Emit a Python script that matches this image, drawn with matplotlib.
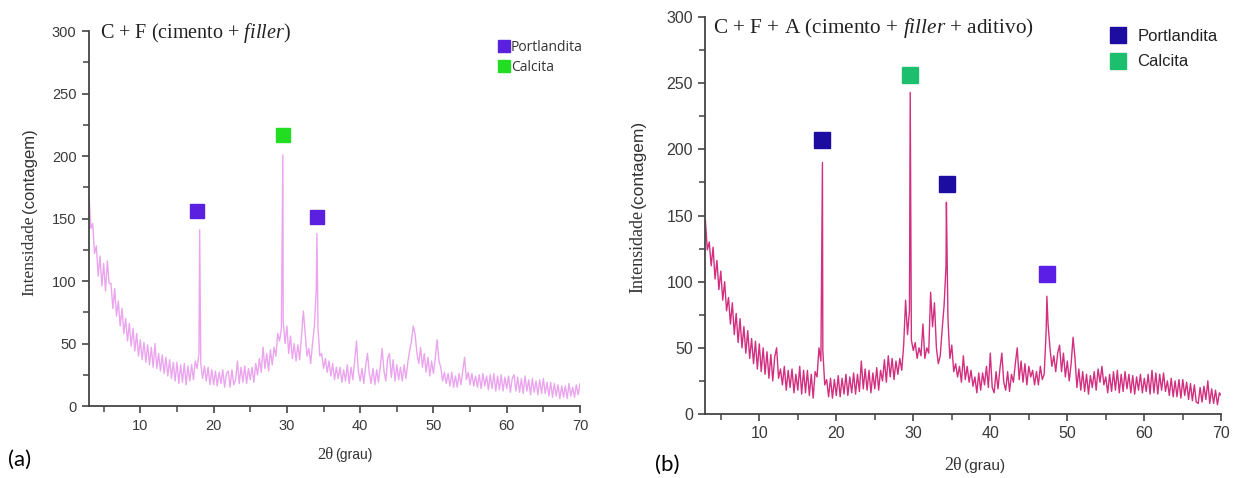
import numpy as np
import matplotlib
matplotlib.use("Agg")
import matplotlib.pyplot as plt
from matplotlib.lines import Line2D
from matplotlib.ticker import MultipleLocator

plt.rcParams['mathtext.fontset'] = 'custom'
plt.rcParams['mathtext.rm'] = 'Liberation Serif'
plt.rcParams['mathtext.it'] = 'Liberation Serif:italic'

# grade de varredura 2theta (graus), passo 0.25
two_theta = np.arange(3.0, 70.001, 0.25)

# (a) C + F -- intensidade, uma linha por grau (x.00, x.25, x.50, x.75)
intens_a = [
    168, 142, 146, 122,   # 3
    128, 104, 120, 96,    # 4
    114, 92, 116, 98,     # 5
    98, 78, 94, 72,       # 6
    84, 64, 78, 58,       # 7
    70, 52, 66, 48,       # 8
    62, 44, 58, 40,       # 9
    53, 37, 51, 35,       # 10
    49, 33, 47, 31,       # 11
    50, 30, 42, 28,       # 12
    41, 26, 39, 24,       # 13
    37, 22, 35, 20,       # 14
    35, 18, 33, 19,       # 15
    34, 17, 32, 20,       # 16
    33, 21, 36, 30,       # 17
    42, 34, 22, 32,       # 18
    20, 31, 17, 29,       # 19
    17, 28, 16, 27,       # 20
    18, 29, 15, 26,       # 21
    28, 15, 29, 17,       # 22
    21, 36, 18, 31,       # 23
    19, 32, 18, 30,       # 24
    21, 31, 19, 34,       # 25
    25, 38, 27, 47,       # 26
    30, 42, 28, 45,       # 27
    33, 47, 40, 58,       # 28
    52, 62, 68, 50,       # 29
    64, 42, 56, 38,       # 30
    50, 36, 49, 37,       # 31
    56, 76, 58, 40,       # 32
    46, 34, 50, 64,       # 33
    92, 62, 40, 42,       # 34
    30, 38, 27, 36,       # 35
    24, 34, 21, 31,       # 36
    22, 31, 19, 29,       # 37
    20, 33, 18, 31,       # 38
    21, 36, 52, 28,       # 39
    20, 30, 18, 32,       # 40
    42, 26, 18, 30,       # 41
    17, 29, 19, 32,       # 42
    46, 28, 20, 38,       # 43
    42, 23, 37, 20,       # 44
    33, 21, 31, 20,       # 45
    33, 22, 35, 44,       # 46
    52, 64, 57, 42,       # 47
    34, 47, 31, 42,       # 48
    27, 39, 24, 36,       # 49
    26, 38, 53, 36,       # 50
    31, 20, 27, 18,       # 51
    26, 16, 27, 15,       # 52
    24, 15, 26, 17,       # 53
    28, 39, 21, 27,       # 54
    17, 26, 16, 24,       # 55
    15, 25, 14, 26,       # 56
    16, 24, 13, 25,       # 57
    14, 26, 12, 24,       # 58
    13, 25, 12, 23,       # 59
    14, 24, 11, 22,       # 60
    25, 12, 23, 11,       # 61
    22, 10, 24, 12,       # 62
    21, 9, 22, 11,        # 63
    20, 9, 21, 10,        # 64
    22, 10, 19, 8,        # 65
    19, 7, 18, 8,         # 66
    17, 6, 16, 7,         # 67
    16, 6, 18, 8,         # 68
    15, 7, 17, 9,         # 69
    18,                   # 70
]
# picos estreitos de (a)
peak_a_x = [18.1, 29.45, 34.1]
peak_a_y = [141, 201, 138]

# (b) C + F + A
intens_b = [
    146, 124, 130, 112,   # 3
    126, 102, 116, 94,    # 4
    108, 86, 100, 78,     # 5
    88, 68, 84, 60,       # 6
    76, 54, 72, 50,       # 7
    66, 46, 63, 42,       # 8
    57, 38, 55, 34,       # 9
    53, 32, 50, 30,       # 10
    47, 27, 45, 25,       # 11
    43, 50, 27, 34,       # 12
    22, 36, 18, 33,       # 13
    20, 34, 16, 30,       # 14
    18, 36, 15, 33,       # 15
    16, 33, 14, 30,       # 16
    12, 32, 28, 50,       # 17
    40, 48, 22, 26,       # 18
    13, 27, 12, 26,       # 19
    14, 29, 13, 27,       # 20
    15, 30, 14, 28,       # 21
    16, 31, 15, 30,       # 22
    17, 40, 19, 34,       # 23
    18, 33, 16, 31,       # 24
    19, 35, 18, 33,       # 25
    25, 41, 24, 44,       # 26
    28, 42, 26, 40,       # 27
    30, 42, 33, 52,       # 28
    86, 60, 78, 56,       # 29
    48, 54, 42, 50,       # 30
    44, 68, 42, 50,       # 31
    46, 92, 66, 84,       # 32
    50, 38, 44, 64,       # 33
    82, 112, 72, 42,      # 34
    52, 32, 38, 28,       # 35
    36, 24, 44, 26,       # 36
    36, 24, 33, 21,       # 37
    28, 16, 31, 18,       # 38
    31, 22, 36, 20,       # 39
    46, 20, 16, 32,       # 40
    19, 34, 46, 24,       # 41
    18, 32, 17, 30,       # 42
    24, 38, 50, 26,       # 43
    40, 24, 38, 22,       # 44
    36, 28, 33, 22,       # 45
    32, 22, 36, 26,       # 46
    30, 62, 68, 50,       # 47
    36, 44, 32, 46,       # 48
    52, 32, 46, 28,       # 49
    40, 25, 38, 58,       # 50
    42, 20, 34, 18,       # 51
    32, 17, 30, 15,       # 52
    29, 20, 32, 18,       # 53
    34, 24, 36, 22,       # 54
    28, 16, 30, 17,       # 55
    32, 18, 33, 16,       # 56
    30, 17, 32, 19,       # 57
    30, 16, 29, 15,       # 58
    28, 18, 30, 16,       # 59
    27, 17, 30, 15,       # 60
    33, 16, 31, 15,       # 61
    30, 18, 31, 17,       # 62
    25, 14, 27, 13,       # 63
    25, 13, 26, 12,       # 64
    26, 14, 24, 11,       # 65
    23, 10, 22, 9,        # 66
    8, 20, 9, 21,         # 67
    11, 25, 8, 19,        # 68
    8, 18, 7, 16,         # 69
    14,                   # 70
]
peak_b_x = [18.2, 29.6, 34.3, 47.35]
peak_b_y = [190, 243, 160, 89]

# marcadores de fase sobre os picos
mark_a_x = [17.8, 29.45, 34.1]
mark_a_y = [156, 217, 151]
mark_a_col = ['#5b1fe0', '#22dd22', '#5b1fe0']

mark_b_x = [18.1, 29.6, 34.4, 47.4]
mark_b_y = [207, 256, 174, 106]
mark_b_col = ['#1c0ca0', '#1dbf6e', '#1c0ca0', '#5a1ee6']

fases = ['Portlandita', 'Calcita']
leg_a_col = ['#5b1fe0', '#22dd22']
leg_b_col = ['#1c0ca0', '#1dbf6e']


def merge(x, y, px, py):
    xx = np.concatenate([x, px])
    yy = np.concatenate([np.array(y, float), py])
    o = np.argsort(xx)
    return xx[o], yy[o]


def estilo(ax, tsize):
    ax.set_xlim(3, 70)
    ax.set_ylim(0, 300)
    for s in ['top', 'right']:
        ax.spines[s].set_visible(False)
    for s in ['left', 'bottom']:
        ax.spines[s].set_color('#444444')
        ax.spines[s].set_linewidth(1.3)
    ax.xaxis.set_major_locator(MultipleLocator(10))
    ax.xaxis.set_minor_locator(MultipleLocator(5))
    ax.yaxis.set_major_locator(MultipleLocator(50))
    ax.yaxis.set_minor_locator(MultipleLocator(25))
    ax.tick_params(which='major', direction='out', length=5, width=1.2,
                   color='#444444', labelcolor='#3a3a3a', labelsize=tsize,
                   labelfontfamily='Liberation Sans', pad=4)
    ax.tick_params(which='minor', direction='out', length=4, width=1.1,
                   color='#444444')


fig = plt.figure(figsize=(12.33, 4.78), dpi=100)

# ---------- (a)
ax1 = fig.add_axes([0.0722, 0.1506, 0.3982, 0.7845])
xa, ya = merge(two_theta, intens_a, peak_a_x, peak_a_y)
ax1.plot(xa, ya, color='#eba5ee', lw=1.0)
for x, y, c in zip(mark_a_x, mark_a_y, mark_a_col):
    ax1.plot(x, y, 's', color=c, markersize=9.5)
estilo(ax1, 10.5)
ax1.text(0.022, 0.995, r'C + F (cimento + $\it{filler}$)', transform=ax1.transAxes,
         family='Liberation Serif', fontsize=14.5, va='center', ha='left', color='#222222')
h = [Line2D([], [], ls='', marker='s', color=c, markersize=8) for c in leg_a_col]
leg = ax1.legend(h, fases, loc='upper left', bbox_to_anchor=(0.4047, 0.916),
                 bbox_transform=fig.transFigure, frameon=False, handlelength=0.7,
                 handletextpad=0.15, labelspacing=0.34, borderpad=0, borderaxespad=0,
                 prop={'family': 'Open Sans', 'size': 10})
for t in leg.get_texts():
    t.set_color('#333333')

# ---------- (b)
ax2 = fig.add_axes([0.5721, 0.1339, 0.4184, 0.8305])
xb, yb = merge(two_theta, intens_b, peak_b_x, peak_b_y)
ax2.plot(xb, yb, color='#d22f80', lw=1.0)
for x, y, c in zip(mark_b_x, mark_b_y, mark_b_col):
    ax2.plot(x, y, 's', color=c, markersize=11.5)
estilo(ax2, 11.5)
ax2.text(0.015, 0.972, r'C + F + A (cimento + $\it{filler}$ + aditivo)', transform=ax2.transAxes,
         family='Liberation Serif', fontsize=15.3, va='center', ha='left', color='#222222')
h = [Line2D([], [], ls='', marker='s', color=c, markersize=12) for c in leg_b_col]
leg = ax2.legend(h, fases, loc='upper left', bbox_to_anchor=(0.901, 0.9396),
                 bbox_transform=fig.transFigure, frameon=False, handlelength=0.9,
                 handletextpad=0.7, labelspacing=0.63, borderpad=0, borderaxespad=0,
                 prop={'family': 'Liberation Sans', 'size': 12})
for t in leg.get_texts():
    t.set_color('#222222')

# rotulos dos eixos (serifa + sem serifa, como no original)
W, H = 1233.0, 478.0
for (xc, split, sz) in [(29, 215, 12.5), (638, 210, 13)]:
    fig.text(xc / W, 1 - split / H, 'Intensidade', rotation=90, family='Liberation Serif',
             fontsize=sz, ha='center', va='top', color='#333333')
    fig.text(xc / W, 1 - split / H + 0.004, '(contagem)', rotation=90, family='Liberation Sans',
             fontsize=sz - 0.5, ha='center', va='bottom', color='#333333')

for (xc, yc, sz) in [(333, 455, 12), (962, 466, 13)]:
    fig.text(xc / W, 1 - yc / H, '2θ', family='Liberation Serif', fontsize=sz,
             ha='right', va='center', color='#333333')
    fig.text(xc / W + 0.002, 1 - yc / H, '(grau)', family='Liberation Sans', fontsize=sz - 2,
             ha='left', va='center', color='#333333')

fig.text(8 / W, 1 - 460 / H, '(a)', family='Lato', fontsize=16, ha='left', va='center')
fig.text(655 / W, 1 - 465 / H, '(b)', family='Lato', fontsize=16, ha='left', va='center')

fig.savefig('out.png', dpi=100)
